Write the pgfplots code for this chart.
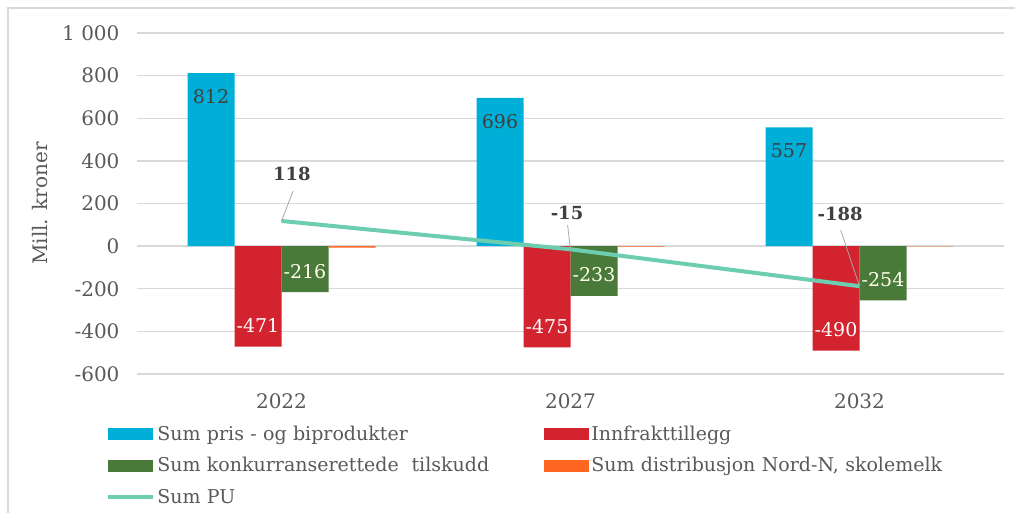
\documentclass[border=0pt]{standalone}
\usepackage{fontspec}
\setmainfont{DejaVu Serif}
\usepackage{pgfplots}
\pgfplotsset{compat=1.18}
\definecolor{cblue}{RGB}{0,175,215}
\definecolor{cred}{RGB}{210,35,47}
\definecolor{cgreen}{RGB}{74,122,58}
\definecolor{corange}{RGB}{255,102,34}
\definecolor{cteal}{RGB}{109,205,176}
\definecolor{gridgray}{RGB}{217,217,217}
\definecolor{txtgray}{RGB}{89,89,89}
\definecolor{lblgray}{RGB}{64,64,64}
\definecolor{leadgray}{RGB}{166,166,166}
\begin{document}
\begin{tikzpicture}
\useasboundingbox (0pt,0pt) rectangle (1015pt,513pt);
\draw[color=gridgray, line width=1.5pt] (8pt,0pt) -- (8pt,505pt) -- (1015pt,505pt);
\begin{axis}[
  at={(137pt,139pt)}, anchor=south west,
  scale only axis, width=867pt, height=341pt,
  xmin=-0.5, xmax=2.5, ymin=-600, ymax=1000,
  xtick={0,1,2}, xticklabels={2022,2027,2032},
  ytick={-600,-400,...,1000},
  axis line style={draw=none}, tick style={draw=none},
  ymajorgrids, grid style={color=gridgray, line width=1.3pt},
  /pgf/number format/assume math mode=true,
  /pgf/number format/1000 sep={\ },
  ticklabel style={font=\fontsize{20}{24}\selectfont, color=txtgray},
  yticklabel style={xshift=-14pt},
  xticklabel style={yshift=-16pt},
  ylabel={Mill. kroner},
  ylabel style={at={(axis description cs:-0.112,0.5)}, anchor=center, font=\fontsize{20}{24}\selectfont, color=txtgray},
  legend columns=2,
  legend style={draw=none, fill=none, at={(axis description cs:-0.039,-0.147)}, anchor=north west,
    font=\fontsize{19}{23}\selectfont, text=txtgray,
    nodes={text width=385pt, anchor=base west, inner xsep=2pt, inner ysep=0pt, text height=14pt, text depth=4pt},
    row sep=13.5pt, column sep=0pt},
]
\addplot[ybar, bar width=47pt, bar shift=-70.5pt, fill=cblue, draw=none,
  nodes near coords, every node near coord/.append style={anchor=north, xshift=-70.5pt, yshift=-13pt, font=\fontsize{19}{22}\selectfont, color=lblgray},
  legend image code/.code={\fill[cblue] (0pt,0pt) rectangle (45pt,12pt);}]
  coordinates {(0,812) (1,696) (2,557)};
\addlegendentry{Sum pris - og biprodukter}
\addplot[ybar, bar width=47pt, bar shift=-23.5pt, fill=cred, draw=none,
  nodes near coords, every node near coord/.append style={anchor=south, xshift=-23.5pt, yshift=10pt, font=\fontsize{19}{22}\selectfont, color=white},
  legend image code/.code={\fill[cred] (0pt,0pt) rectangle (45pt,12pt);}]
  coordinates {(0,-471) (1,-475) (2,-490)};
\addlegendentry{Innfrakttillegg}
\addplot[ybar, bar width=47pt, bar shift=23.5pt, fill=cgreen, draw=none,
  nodes near coords, every node near coord/.append style={anchor=south, xshift=23.5pt, yshift=10pt, font=\fontsize{19}{22}\selectfont, color=white!92!yellow},
  legend image code/.code={\fill[cgreen] (0pt,0pt) rectangle (45pt,12pt);}]
  coordinates {(0,-216) (1,-233) (2,-254)};
\addlegendentry{Sum konkurranserettede\ \ tilskudd}
\addplot[ybar, bar width=47pt, bar shift=70.5pt, fill=corange, draw=none,
  legend image code/.code={\fill[corange] (0pt,0pt) rectangle (45pt,12pt);}]
  coordinates {(0,-7) (1,-2) (2,-1)};
\addlegendentry{Sum distribusjon Nord-N, skolemelk}
\addplot[sharp plot, no marks, color=cteal, line width=4pt,
  legend image code/.code={\draw[cteal, line width=4pt] (0pt,6pt) -- (45pt,6pt);}]
  coordinates {(0,118) (1,-15) (2,-188)};
\addlegendentry{Sum PU}
\draw[leadgray, line width=0.8pt] (axis cs:0.04,258) -- (axis cs:0,118);
\draw[leadgray, line width=0.8pt] (axis cs:0.99,98) -- (axis cs:1,-15);
\draw[leadgray, line width=0.8pt] (axis cs:1.935,75) -- (axis cs:2,-188);
\node[font=\bfseries\fontsize{18}{22}\selectfont, color=lblgray] at (axis cs:0.036,337) {118};
\node[font=\bfseries\fontsize{18}{22}\selectfont, color=lblgray] at (axis cs:0.988,155) {-15};
\node[font=\bfseries\fontsize{18}{22}\selectfont, color=lblgray] at (axis cs:1.933,150) {-188};
\end{axis}
\end{tikzpicture}
\end{document}
